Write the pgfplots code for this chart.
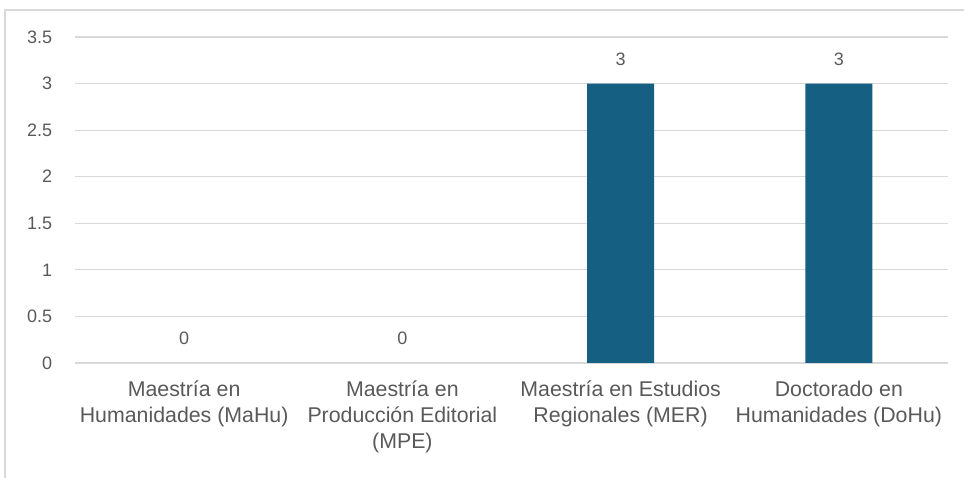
\documentclass[border=0pt]{standalone}
\usepackage{pgfplots}
\pgfplotsset{compat=1.18}
\usepackage{fontspec}
\setmainfont{Liberation Sans}
\definecolor{bar}{RGB}{21,96,130}
\definecolor{txt}{RGB}{89,89,89}
\definecolor{gridc}{RGB}{217,217,217}
\begin{document}
\begin{tikzpicture}
\useasboundingbox (0pt,0pt) rectangle (723pt,358.5pt);
\draw[gridc,line width=1.2pt] (3.75pt,0pt) -- (3.75pt,351pt) -- (723pt,351pt);
\begin{axis}[
  at={(56.25pt,86.25pt)}, anchor=south west,
  scale only axis, width=654.75pt, height=244.5pt,
  xmin=-0.5, xmax=3.5, ymin=0, ymax=3.5,
  ytick={0,0.5,1,1.5,2,2.5,3,3.5},
  yticklabels={0,0.5,1,1.5,2,2.5,3,3.5},
  xtick={0,1,2,3},
  xticklabels={{Maestría en\\Humanidades (MaHu)},{Maestría en\\Producción Editorial\\(MPE)},{Maestría en Estudios\\Regionales (MER)},{Doctorado en\\Humanidades (DoHu)}},
  axis line style={draw=none},
  major tick length=0pt,
  ymajorgrids, grid style={gridc, line width=0.8pt},
  /pgf/number format/assume math mode=true,
  yticklabel style={font=\fontsize{13.5}{16}\selectfont, text=txt, anchor=east, inner sep=0pt, xshift=-17pt},
  xticklabel style={font=\fontsize{16}{19.5}\selectfont, text=txt, align=center, anchor=north, inner sep=0pt, yshift=-13.5pt},
  every node near coord/.style={font=\fontsize{13.5}{16}\selectfont, text=txt, anchor=base, inner sep=0pt, yshift=13.5pt},
  clip=false,
]
\addplot[ybar, bar width=50.25pt, bar shift=0pt, fill=bar, draw=none] coordinates {(2,3) (3,3)};
\addplot[draw=none, mark=none, nodes near coords] coordinates {(0,0) (1,0) (2,3) (3,3)};
\end{axis}
\end{tikzpicture}
\end{document}
